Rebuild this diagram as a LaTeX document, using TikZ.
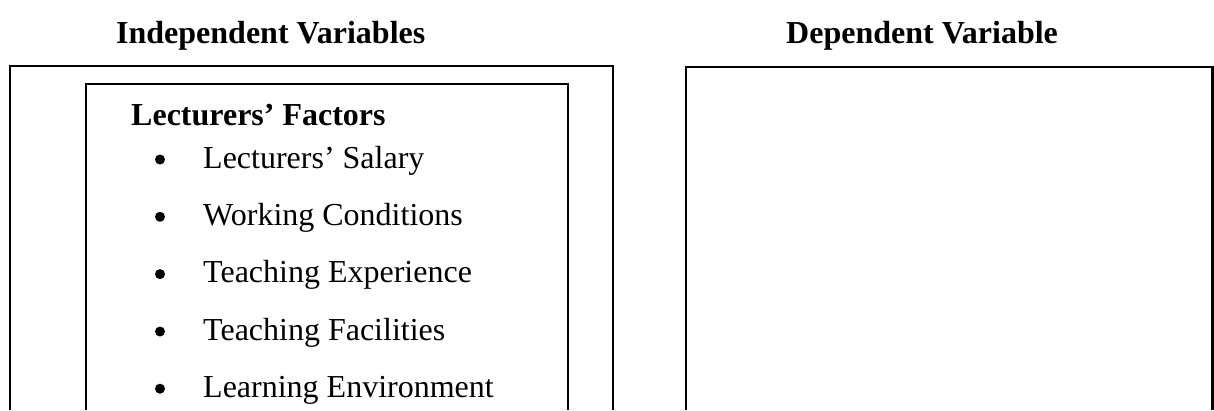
\documentclass[tikz,border=0pt]{standalone}
\usepackage{fontspec}
\setmainfont{Liberation Serif}

\begin{document}
\begin{tikzpicture}[x=1pt,y=1pt,yscale=-1]
	\useasboundingbox (0,0) rectangle (1214,410);
	\tikzset{
		txt/.style={anchor=base west,inner sep=0pt,font=\fontsize{32}{38}\selectfont},
		hd/.style={txt,font=\fontsize{32}{38}\selectfont\bfseries},
		dot/.style={circle,fill=black,inner sep=0pt,minimum size=10pt},
		frame/.style={line width=1.8pt},
	}

	%Shape: Open Box [id:outer]
	\draw [frame]  (10,410) -- (10,66) -- (613,66) -- (613,410) ;
	%Shape: Open Box [id:inner]
	\draw [frame,line width=2.2pt]  (86,410) -- (86,84) -- (568,84) -- (568,410) ;
	%Shape: Open Box [id:dependent]
	\draw [frame,line width=2.2pt]  (686,410) -- (686,67) -- (1212.5,67) -- (1212.5,410) ;

	% Text Node
	\node [hd] (indep) at (116,43) {Independent Variables};
	% Text Node
	\node [hd] (dep) at (786,43) {Dependent Variable};
	% Text Node
	\node [hd] (lect) at (131,125) {Lecturers’ Factors};
	% Text Node
	\node [dot] (b1) at (160,159.5) {};
	\node [txt] (salary) at (203,168) {Lecturers’ Salary};
	% Text Node
	\node [dot] (b2) at (160,216.8) {};
	\node [txt] (work) at (203,225.3) {Working Conditions};
	% Text Node
	\node [dot] (b3) at (160,274.1) {};
	\node [txt] (exper) at (203,282.6) {Teaching Experience};
	% Text Node
	\node [dot] (b4) at (160,331.5) {};
	\node [txt] (facil) at (203,340) {Teaching Facilities};
	% Text Node
	\node [dot] (b5) at (160,388.7) {};
	\node [txt] (learn) at (203,397.2) {Learning Environment};
\end{tikzpicture}
\end{document}
